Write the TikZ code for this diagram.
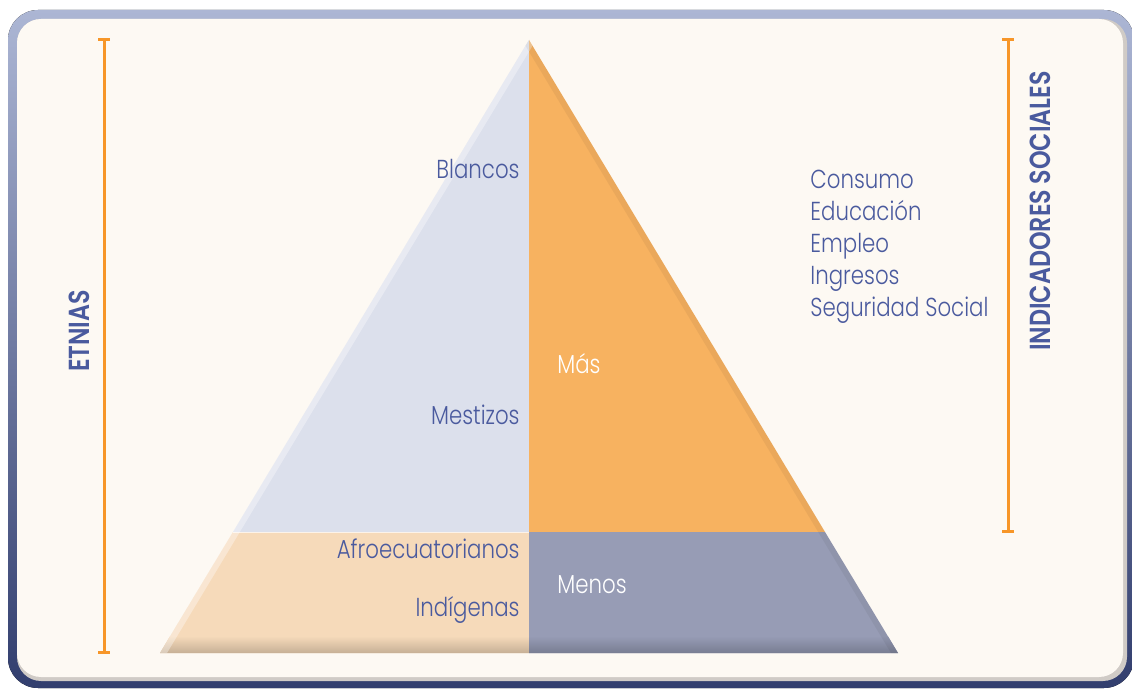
\documentclass[tikz,border=0pt]{standalone}
\usepackage{fontspec}
\setmainfont{Poppins}[UprightFont={* Light},BoldFont={* SemiBold},FakeStretch=0.82]
\definecolor{frametop}{RGB}{172,182,212}
\definecolor{framebottom}{RGB}{50,62,110}
\definecolor{panel}{RGB}{253,249,243}
\definecolor{panelshadow}{RGB}{208,203,198}
\definecolor{textblue}{RGB}{74,90,158}
\definecolor{barorange}{RGB}{247,150,40}
\definecolor{topleft}{RGB}{220,224,236}
\definecolor{topright}{RGB}{247,178,96}
\definecolor{lowleft}{RGB}{246,218,186}
\definecolor{lowleftdark}{RGB}{198,176,150}
\definecolor{lowright}{RGB}{151,156,181}
\definecolor{lowrightdark}{RGB}{120,125,146}
\begin{document}
\begin{tikzpicture}[x=0.5pt,y=-0.5pt]
  \tikzstyle{etnia}=[inner sep=0pt,text=textblue,font=\fontsize{13}{15}\selectfont,anchor=base east]
  \tikzstyle{nivel}=[inner sep=0pt,text=white,font=\fontsize{13}{15}\selectfont,anchor=base west]
  \tikzstyle{indicador}=[inner sep=0pt,text=textblue,font=\fontsize{13}{15}\selectfont,anchor=base west]
  \tikzstyle{titulo}=[inner sep=0pt,text=textblue,font=\bfseries\fontsize{14.5}{17}\selectfont,rotate=90,anchor=base]
  \tikzstyle{bracket}=[draw=barorange,line width=1.5pt]
  \useasboundingbox (0,0) rectangle (1132,690);
  % frame
  \fill[rounded corners=15pt,top color=frametop,bottom color=framebottom] (8,10) rectangle (1134,688);
  \fill[rounded corners=12pt,panelshadow] (17,19) rectangle (1127,681);
  \fill[rounded corners=12pt,panel] (17,19) rectangle (1123,677);
  % pyramid
  \coordinate (apex) at (529,40);
  \coordinate (baseL) at (160,653);
  \coordinate (baseC) at (529,653);
  \coordinate (baseR) at (898,653);
  \coordinate (midL) at (233,532);
  \coordinate (midC) at (529,532);
  \coordinate (midR) at (825,532);
  \fill[topleft] (apex) -- (midL) -- (midC) -- cycle;
  \fill[topright] (apex) -- (midC) -- (midR) -- cycle;
  \fill[lowleft] (midL) -- (midC) -- (baseC) -- (baseL) -- cycle;
  \fill[lowright] (midC) -- (midR) -- (baseR) -- (baseC) -- cycle;
  \begin{scope}
    \clip (apex) -- (baseR) -- (baseL) -- cycle;
    \shade[top color=lowleft,bottom color=lowleftdark] (150,636) rectangle (529,653);
    \shade[top color=lowright,bottom color=lowrightdark] (529,636) rectangle (900,653);
    \draw[white,opacity=0.35,line width=6pt] (apex) -- (baseL);
    \draw[black,opacity=0.05,line width=6pt] (apex) -- (baseR);
  \end{scope}
  \draw[white,opacity=0.7,line width=0.4pt] (midL) -- (midC);
  % brackets
  \draw[bracket] (98,40) -- (110,40) (104,40) -- (104,652) (98,652) -- (110,652);
  \draw[bracket] (1002,40) -- (1014,40) (1008,40) -- (1008,531) (1002,531) -- (1014,531);
  % labels
  \node[etnia] (blancos) at (520,179) {Blancos};
  \node[etnia] (mestizos) at (520,424) {Mestizos};
  \node[etnia] (afro) at (520,559) {Afroecuatorianos};
  \node[etnia] (indigenas) at (520,616) {Indígenas};
  \node[nivel] (mas) at (557,373) {Más};
  \node[nivel] (menos) at (557,593) {Menos};
  \node[indicador] (consumo) at (810,189) {Consumo};
  \node[indicador] (educacion) at (810,221) {Educación};
  \node[indicador] (empleo) at (810,253) {Empleo};
  \node[indicador] (ingresos) at (810,285) {Ingresos};
  \node[indicador] (seguridad) at (810,317) {Seguridad Social};
  % headers
  \node[titulo] (etnias) at (90,331) {ETNIAS};
  \node[titulo] (indicadores) at (1050,211) {INDICADORES SOCIALES};
\end{tikzpicture}
\end{document}
